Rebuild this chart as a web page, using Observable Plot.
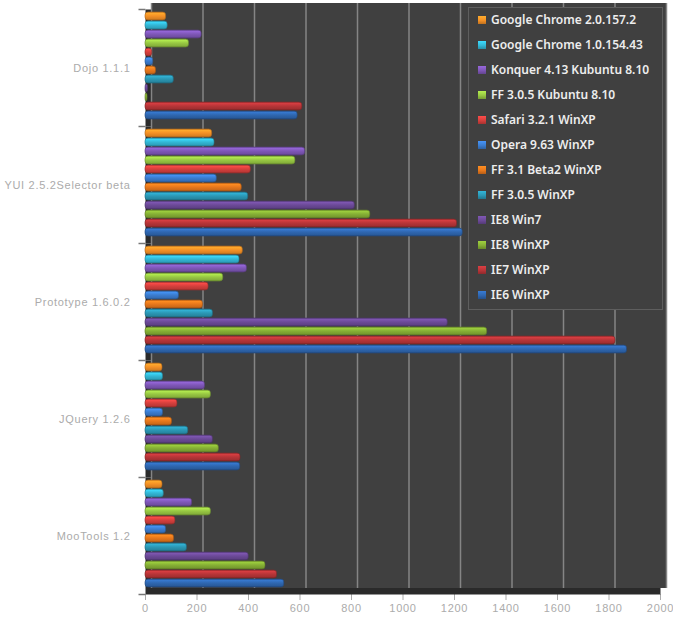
<!DOCTYPE html>
<html><head><meta charset="utf-8">
<script src="https://cdn.jsdelivr.net/npm/d3@7"></script>
<script src="https://cdn.jsdelivr.net/npm/@observablehq/plot@0.6"></script>
<style>
body{margin:0;background:#fff;}
#wrap{position:relative;width:673px;height:621px;}
#legend{position:absolute;left:468px;top:7px;width:195px;height:303px;background:#404040;border:1px solid #5e5e5e;box-sizing:border-box;font-family:"Noto Sans";font-weight:600;font-size:12px;color:#ededed;}
.item{position:absolute;left:9px;height:16px;line-height:16px;white-space:nowrap;}
.sw{display:inline-block;width:8px;height:8px;margin-right:5px;vertical-align:middle;position:relative;top:-1px;}
</style></head><body><div id="wrap"></div>
<script>
const categories = ["Dojo 1.1.1", "YUI 2.5.2Selector beta", "Prototype 1.6.0.2", "JQuery 1.2.6", "MooTools 1.2"];
const series = ["Google Chrome 2.0.157.2", "Google Chrome 1.0.154.43", "Konquer 4.13 Kubuntu 8.10", "FF 3.0.5 Kubuntu 8.10", "Safari 3.2.1 WinXP", "Opera 9.63 WinXP", "FF 3.1 Beta2 WinXP", "FF 3.0.5 WinXP", "IE8 Win7", "IE8 WinXP", "IE7 WinXP", "IE6 WinXP"];
// values per category, in series order
const dojo      = [80, 86, 218, 169, 26, 30, 41, 110, 10, 8, 609, 591];
const yui       = [259, 268, 620, 582, 409, 277, 374, 399, 813, 873, 1210, 1232];
const prototype = [378, 365, 394, 302, 245, 130, 223, 262, 1174, 1327, 1825, 1870];
const jquery    = [66, 68, 231, 254, 124, 68, 103, 166, 262, 285, 369, 368];
const mootools  = [66, 71, 181, 254, 116, 80, 111, 161, 401, 466, 511, 539];
const seriesColors = ["#f59126", "#33b8d6", "#7f57b8", "#98c843", "#d6403d", "#3b7dd0", "#e8781c", "#2b98b5", "#6c4a98", "#86b035", "#b83538", "#2f67b1"];
const xTicks = [0, 200, 400, 600, 800, 1000, 1200, 1400, 1600, 1800, 2000];

const valuesByCategory = [dojo, yui, prototype, jquery, mootools];
const rows = categories.flatMap((c, ci) => series.map((s, si) => ({
  category: c, series: s, value: valuesByCategory[ci][si],
  grad: `url(#g${si})`, edge: d3.color(seriesColors[si]).darker(1).formatHex()
})));

const tickSym = {draw(ctx) { ctx.moveTo(-7, 0); ctx.lineTo(0, 0); }};

const chart = Plot.plot({
  width: 673, height: 621,
  marginLeft: 145, marginRight: 13, marginTop: 7, marginBottom: 25,
  style: {fontFamily: "Liberation Sans", fontSize: "11px", letterSpacing: "0.7px", color: "#ababab", background: "transparent", overflow: "visible"},
  x: {domain: [0, 2000], ticks: xTicks, tickFormat: "d", tickSize: 6, tickPadding: 4, label: null},
  y: {domain: series, axis: null, paddingInner: 0.06, paddingOuter: 0.35, align: 0.3},
  fy: {domain: categories, axis: "left", padding: 0, tickSize: 0, tickPadding: 15, label: null},
  color: {type: "identity"},
  marks: [
    Plot.frame({fill: "#2a2a2a"}),
    Plot.rect([0], {x1: 0, x2: 2000, fill: "#404040", dx: 6, dy: -6}),
    Plot.ruleX(xTicks, {stroke: "#858585", strokeWidth: 1.5, dx: 6, dy: -6}),
    Plot.barX(rows, {fy: "category", y: "series", x: "value", fill: "grad", stroke: "edge", strokeWidth: 0.6, rx: 3}),
    Plot.dot(categories, {fy: d => d, frameAnchor: "top-left", symbol: tickSym, stroke: "#777", r: 4}),
    Plot.dot([categories[4]], {fy: d => d, frameAnchor: "bottom-left", symbol: tickSym, stroke: "#777", r: 4})
  ]
});

const svg = chart.tagName.toLowerCase() === "svg" ? chart : chart.querySelector("svg");
const defs = d3.select(svg).insert("defs", ":first-child");
seriesColors.forEach((c, i) => {
  const base = d3.color(c);
  const g = defs.append("linearGradient").attr("id", `g${i}`).attr("x1", 0).attr("y1", 0).attr("x2", 0).attr("y2", 1);
  [[0, base.darker(0.4)], [0.15, base.brighter(0.45)], [0.5, base], [0.85, base.darker(0.35)], [1, base.darker(0.9)]]
    .forEach(([o, col]) => g.append("stop").attr("offset", o).attr("stop-color", col.formatHex()));
});

const wrap = document.getElementById("wrap");
wrap.appendChild(chart);
const legend = document.createElement("div");
legend.id = "legend";
series.forEach((s, i) => {
  const base = d3.color(seriesColors[i]);
  const it = document.createElement("div");
  it.className = "item";
  it.style.top = (4 + 25 * i) + "px";
  const sw = document.createElement("span");
  sw.className = "sw";
  sw.style.background = `linear-gradient(to bottom, ${base.brighter(0.5).formatHex()}, ${base.formatHex()} 55%, ${base.darker(0.7).formatHex()})`;
  it.appendChild(sw);
  it.appendChild(document.createTextNode(s));
  legend.appendChild(it);
});
wrap.appendChild(legend);
</script></body></html>
